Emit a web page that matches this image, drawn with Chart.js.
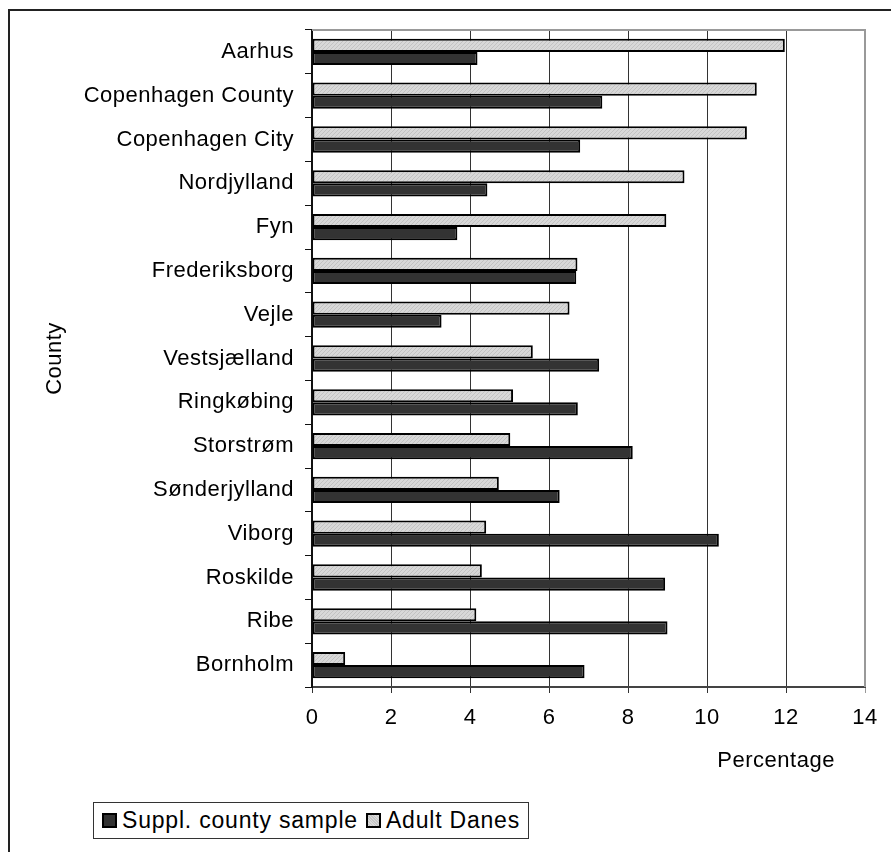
<!DOCTYPE html>
<html>
<head>
<meta charset="utf-8">
<script src="https://cdn.jsdelivr.net/npm/chart.js@4.4.1/dist/chart.umd.min.js"></script>
<style>
  body { margin: 0; background: #fff; font-family: "Liberation Sans", Arial, sans-serif; }
  #wrap { position: relative; width: 891px; height: 852px; }
  #frame { position: absolute; left: 8px; top: 9px; right: 0; bottom: 0; border-left: 2px solid #222; border-top: 2px solid #222; }
  #legend { position: absolute; left: 93px; top: 802px; height: 35px; padding: 0 8px; border: 1px solid #333;
            display: flex; align-items: center; font-size: 23px; letter-spacing: 0.8px; color: #000; background: #fff; white-space: nowrap; }
  #legend .sw { width: 11px; height: 11px; border: 2px solid #000; margin-right: 5px; }
  #legend .dark { background: #333; }
  #legend .light { background: repeating-linear-gradient(45deg, #dadada 0 1px, #c4c4c4 1px 2px); margin-left: 8px; }
</style>
</head>
<body>
<div id="wrap">
  <canvas id="chart" width="891" height="852"></canvas>
  <div id="frame"></div>
  <div id="legend">
    <span class="sw dark"></span>Suppl. county sample
    <span class="sw light"></span>Adult Danes
  </div>
</div>
<script>
const categories = ['Aarhus', 'Copenhagen County', 'Copenhagen City', 'Nordjylland', 'Fyn',
  'Frederiksborg', 'Vejle', 'Vestsjælland', 'Ringkøbing', 'Storstrøm', 'Sønderjylland',
  'Viborg', 'Roskilde', 'Ribe', 'Bornholm'];
const adultDanes = [11.97, 11.26, 11.01, 9.43, 8.97, 6.72, 6.52, 5.59, 5.09, 5.02, 4.73, 4.41, 4.30, 4.16, 0.84];
const supplSample = [4.19, 7.35, 6.79, 4.44, 3.68, 6.69, 3.28, 7.27, 6.73, 8.12, 6.27, 10.30, 8.94, 9.00, 6.90];
const xTicks = [0, 2, 4, 6, 8, 10, 12, 14];

// hatch fill for the light bars
function hatch() {
  const c = document.createElement('canvas');
  c.width = 4; c.height = 4;
  const g = c.getContext('2d');
  g.fillStyle = '#d8d8d8';
  g.fillRect(0, 0, 4, 4);
  g.fillStyle = '#c2c2c2';
  for (let i = 0; i < 4; i++) g.fillRect(i, 3 - i, 1, 1);
  return g.createPattern(c, 'repeat');
}

// gray plot frame on top/right + x title
const extras = {
  id: 'extras',
  beforeDraw(chart) {
    chart.ctx.letterSpacing = '0.5px';
  },
  beforeDatasetsDraw(chart) {
    const { ctx, chartArea: a } = chart;
    ctx.save();
    ctx.strokeStyle = '#999';
    ctx.lineWidth = 2;
    ctx.beginPath();
    ctx.moveTo(a.left, a.top);
    ctx.lineTo(a.right, a.top);
    ctx.lineTo(a.right, a.bottom);
    ctx.stroke();
    ctx.restore();
  },
  afterDraw(chart) {
    const { ctx } = chart;
    const x = chart.scales.x;
    ctx.save();
    ctx.font = '22px "Liberation Sans", Arial, sans-serif';
    ctx.fillStyle = '#000';
    ctx.textAlign = 'center';
    ctx.textBaseline = 'middle';
    ctx.fillText('Percentage', x.getPixelForValue(11.75), x.bottom - 91);
    ctx.restore();
  }
};

const font = { family: '"Liberation Sans", Arial, sans-serif', size: 22 };

new Chart(document.getElementById('chart'), {
  type: 'bar',
  data: {
    labels: categories,
    datasets: [
      {
        label: 'Adult Danes',
        data: adultDanes,
        backgroundColor: hatch(),
        borderColor: '#000',
        borderWidth: 2,
        borderSkipped: false
      },
      {
        label: 'Suppl. county sample',
        data: supplSample,
        backgroundColor: '#333',
        borderColor: '#000',
        borderWidth: 2,
        borderSkipped: false
      }
    ]
  },
  options: {
    indexAxis: 'y',
    responsive: false,
    animation: false,
    layout: { padding: { left: 34, top: 30, right: 26, bottom: 0 } },
    datasets: { bar: { categoryPercentage: 0.6, barPercentage: 1.0 } },
    plugins: { legend: { display: false }, tooltip: { enabled: false } },
    scales: {
      x: {
        min: 0,
        max: 14,
        afterBuildTicks: s => { s.ticks = xTicks.map(v => ({ value: v })); },
        afterFit: s => { s.height = 165; },
        border: { color: '#444', width: 2 },
        grid: {
          color: c => (c.tick && c.tick.value === 14 ? '#999' : '#333'),
          lineWidth: 1,
          tickLength: 6
        },
        ticks: { color: '#000', font, padding: 12 }
      },
      y: {
        afterFit: s => { s.width = 278; },
        border: { color: '#111', width: 2 },
        grid: { drawOnChartArea: false, color: '#111', tickLength: 7, offset: true },
        ticks: { color: '#000', font, padding: 11 },
        title: { display: true, text: 'County', color: '#000', font, padding: { top: 8 } }
      }
    }
  },
  plugins: [extras]
});
</script>
</body>
</html>
